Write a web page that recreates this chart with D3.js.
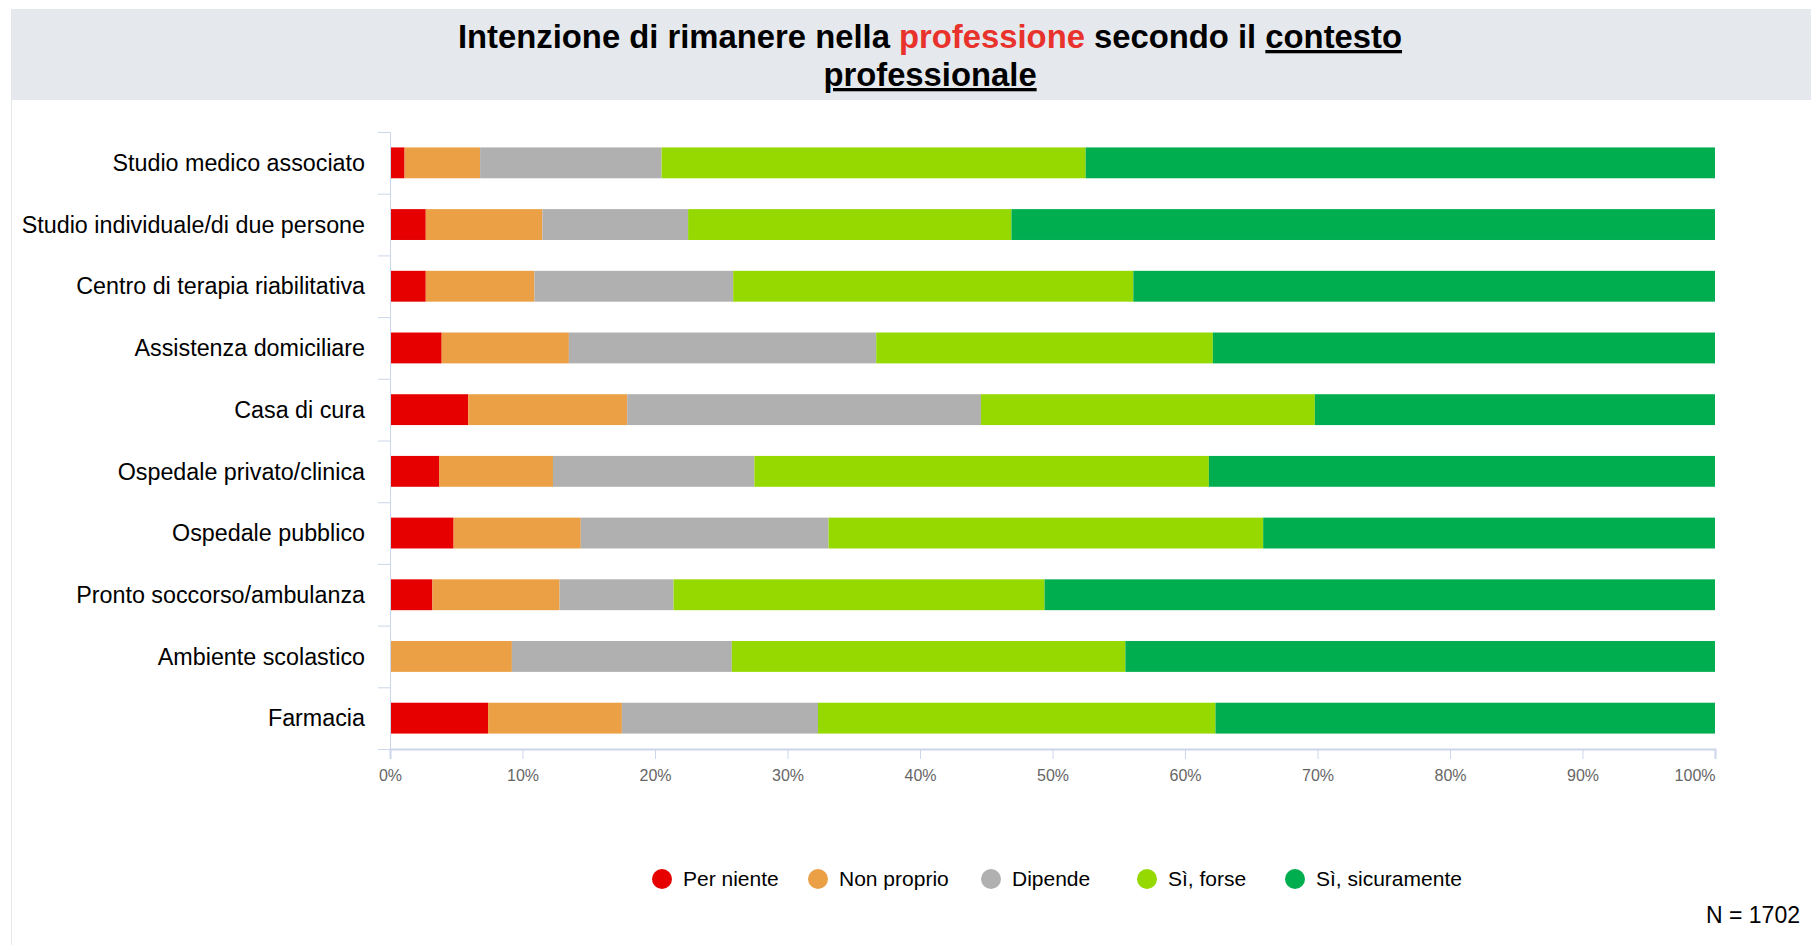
<!DOCTYPE html>
<html>
<head>
<meta charset="utf-8">
<script src="https://cdn.jsdelivr.net/npm/d3@7"></script>
<style>
  body { margin: 0; background: #fff; }
  svg { display: block; font-family: "Liberation Sans", Arial, sans-serif; }
</style>
</head>
<body>
<svg></svg>
<script>
let categories = [
    "Studio medico associato",
    "Studio individuale/di due persone",
    "Centro di terapia riabilitativa",
    "Assistenza domiciliare",
    "Casa di cura",
    "Ospedale privato/clinica",
    "Ospedale pubblico",
    "Pronto soccorso/ambulanza",
    "Ambiente scolastico",
    "Farmacia"
];

let seriesNames = ["Per niente", "Non proprio", "Dipende", "Sì, forse", "Sì, sicuramente"];

let perNiente     = [1.1, 2.7, 2.7, 3.9, 5.9, 3.7, 4.8, 3.2, 0, 7.4];
let nonProprio    = [5.7, 8.8, 8.2, 9.6, 12.0, 8.6, 9.6, 9.6, 9.2, 10.1];
let dipende       = [13.7, 11.0, 15.0, 23.2, 26.7, 15.2, 18.7, 8.6, 16.6, 14.8];
let siForse       = [32.0, 24.4, 30.2, 25.4, 25.2, 34.3, 32.8, 28.0, 29.7, 30.0];
let siSicuramente = [47.5, 53.1, 43.9, 37.9, 30.2, 38.2, 34.1, 50.6, 44.5, 37.7];

let xTicks = [0, 10, 20, 30, 40, 50, 60, 70, 80, 90, 100];

let colors = ["#e60000", "#eba046", "#b0b0b0", "#95d900", "#00ad4f"];

let width = 1811;
let height = 945;
let plot = { left: 390, right: 1715, top: 132, bottom: 749 };
// centres of the legend dots
let legendX = [662, 818, 991, 1147, 1295];

let svg = d3.select("svg");

let rows = categories.map((c, i) => ({
    category: c,
    "Per niente": perNiente[i],
    "Non proprio": nonProprio[i],
    "Dipende": dipende[i],
    "Sì, forse": siForse[i],
    "Sì, sicuramente": siSicuramente[i]
}));

let xScale, yScale;

const drawCanvas = () => {
    svg.attr("width", width).attr("height", height);

    // title band
    svg.append("rect")
       .attr("x", 12).attr("y", 9)
       .attr("width", width - 12).attr("height", 91)
       .attr("fill", "#e5e9ee");

    svg.append("line")
       .attr("x1", 11.5).attr("x2", 11.5)
       .attr("y1", 9).attr("y2", height)
       .attr("stroke", "#e3e6ea");

    let title = svg.append("text")
       .attr("x", 930).attr("y", 48)
       .attr("text-anchor", "middle")
       .style("font-size", "32.8px")
       .style("font-weight", "bold")
       .attr("fill", "#000");
    title.append("tspan").text("Intenzione di rimanere nella ");
    title.append("tspan").attr("fill", "#e8322b").text("professione");
    title.append("tspan").text(" secondo il ");
    title.append("tspan").style("text-decoration", "underline").text("contesto");

    svg.append("text")
       .attr("x", 930).attr("y", 86)
       .attr("text-anchor", "middle")
       .style("font-size", "32.8px")
       .style("font-weight", "bold")
       .style("text-decoration", "underline")
       .text("professionale");
}

const generateScales = () => {
    xScale = d3.scaleLinear().domain([0, 100]).range([plot.left, plot.right]);
    yScale = d3.scaleBand().domain(categories).range([plot.top, plot.bottom]).paddingInner(0.5).paddingOuter(0.25);
}

const generateAxis = () => {
    let xAxis = d3.axisBottom(xScale)
                  .tickValues(xTicks)
                  .tickSize(10)
                  .tickFormat(d => d + "%");

    let gx = svg.append("g")
       .attr("transform", `translate(0, ${plot.bottom})`)
       .call(xAxis);
    gx.select(".domain").attr("stroke", "#ccd6eb").attr("stroke-width", 2);
    gx.selectAll(".tick line").attr("stroke", "#ccd6eb");
    gx.selectAll(".tick text")
      .attr("dy", "1.2em")
      .attr("fill", "#666")
      .style("font-size", "16px")
      .attr("text-anchor", d => d === 100 ? "end" : "middle");

    // y axis line, ticks at the band boundaries
    let yAxis = d3.axisLeft(d3.scaleLinear().domain([0, categories.length]).range([plot.top, plot.bottom]))
                  .ticks(categories.length)
                  .tickSize(12)
                  .tickFormat("");
    let gy = svg.append("g")
       .attr("transform", `translate(${plot.left}, 0)`)
       .call(yAxis);
    gy.select(".domain").attr("stroke", "#ccd6eb");
    gy.selectAll(".tick line").attr("stroke", "#ccd6eb");

    svg.append("g")
       .selectAll("text")
       .data(categories)
       .enter()
       .append("text")
       .attr("x", 365)
       .attr("y", d => yScale(d) + yScale.bandwidth() / 2)
       .attr("dy", "0.35em")
       .attr("text-anchor", "end")
       .style("font-size", "23.3px")
       .attr("fill", "#000")
       .text(d => d);
}

const drawBars = () => {
    let stacked = d3.stack().keys(seriesNames)(rows);

    svg.append("g")
       .selectAll("g")
       .data(stacked)
       .enter()
       .append("g")
       .attr("fill", (d, i) => colors[i])
       .selectAll("rect")
       .data(d => d)
       .enter()
       .append("rect")
       .attr("x", d => xScale(d[0]))
       .attr("y", d => yScale(d.data.category))
       .attr("width", d => xScale(d[1]) - xScale(d[0]))
       .attr("height", yScale.bandwidth());
}

const drawLegend = () => {
    let legend = svg.append("g").attr("transform", "translate(0, 879)");
    seriesNames.forEach((name, i) => {
        legend.append("circle")
              .attr("cx", legendX[i]).attr("cy", 0).attr("r", 10)
              .attr("fill", colors[i]);
        legend.append("text")
              .attr("x", legendX[i] + 21).attr("y", 0).attr("dy", "0.35em")
              .style("font-size", "21px")
              .attr("fill", "#000")
              .text(name);
    });

    svg.append("text")
       .attr("x", 1800).attr("y", 915)
       .attr("dy", "0.35em")
       .attr("text-anchor", "end")
       .style("font-size", "23px")
       .attr("fill", "#000")
       .text("N = 1702");
}

drawCanvas();
generateScales();
drawBars();
generateAxis();
drawLegend();
</script>
</body>
</html>
